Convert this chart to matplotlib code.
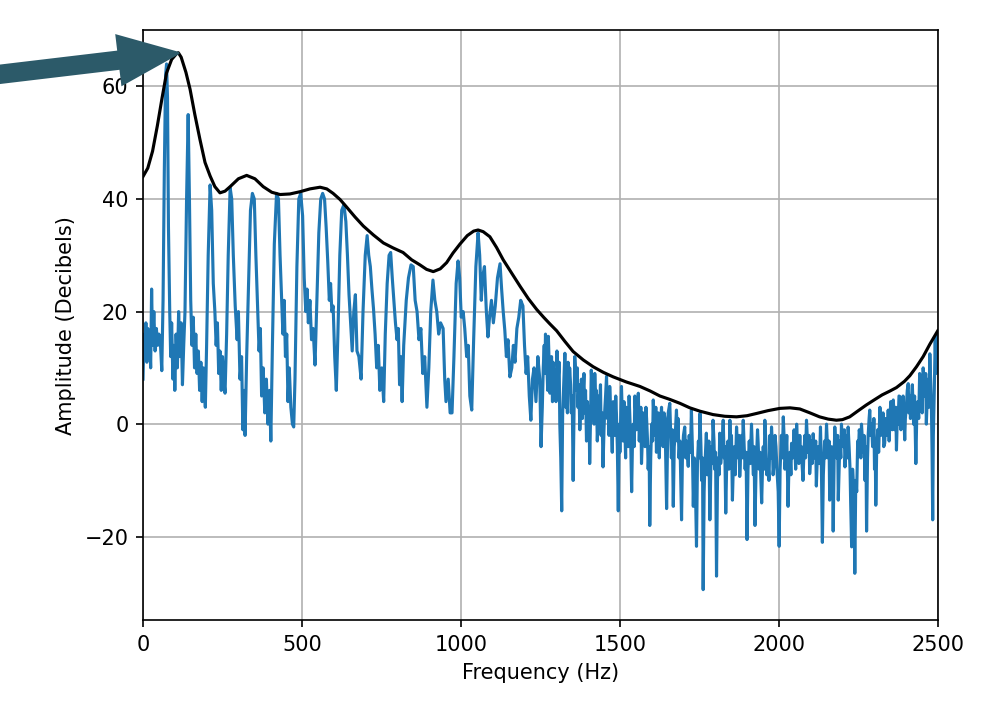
import matplotlib
matplotlib.use("Agg")
import matplotlib.pyplot as plt
from matplotlib.patches import FancyArrow

# ---------------- data ----------------
spec_freq_a = [0,3,6,9,12,15,18,21,24,27,
    30,34,38,42,46,50,55,59,63,67,
    71,74,77,80,84,87,90,94,97,100,
    104,108,112,116,120,124,128,132,137,142,
    146,150,154,158,162,166,170,174,178,182,
    186,190,196,200,205,211,216,221,226,230,
    234,238,242,246,250,254,258,263,268,274,
    279,284,290,296,300,305,310,314,318,321,
    326,332,338,344,350,355,361,365,369,373,
    378,383,388,393,398,402,407,413,420]
spec_db_a = [8,16,13,18,11,17,12,15,10,24,
    14,20,13,17,14,16,14,9.5,22,45,
    62,64,58,35,20,12,18,8,14,6,
    16,10,20,12,18,7,14,20,40,55,
    40,22,14,19,10,16,9,13,6,11,
    4,10,3,14,30,42.5,38,25,20,14,
    18,9,13,6,12,8,5.5,16,30,42,
    40,30,21,15,20,8,12,-1,6,-2,
    12,25,38,41,40,30,20,13,17,5,
    10,2,8,0,6,-3,14,32,41]

spec_freq_b = [426,431,436,440,444,448,452,456,460,465,
    470,474,478,484,490,496,502,507,512,516,
    520,525,530,535,541,547,553,559,565,571,
    576,581,586,590,594,598,603,608,613,619,
    625,632,638,643,648,653,658,663,668,673,
    679,686,692,699,705,710,715,720,725,730,
    735,740,745,751,757,762,768,774,779,784,
    789,794,799,803,807,811,815,820,828,835,
    843,850,856,862,868,874,880,886,893,899,
    905,912,918,924,930,936,944,949,953,960,
    966,972,978,985,991,996]
spec_db_b = [40,30,22,16,22,12,16,4,10,3,
    0,-0.5,8,28,40,41,37,26,20,24,
    18,22,15,17,10.5,22,34,40,41,40,
    35,29,22,25,20,21,12,6,16,30,
    38,39,36,30,23,18,13,20,23,13,
    12,8,20,30,33.5,30,28,24,20.5,16,
    10,14,6,10,4,16,25,30,30.5,26,
    22,18,15,17,7,12,4,14,22,26,
    28.3,28,22,20,15,17,9,12,3,10,
    20,25.6,22,20,16,18,17,8,4,8,
    2,2,12,25,29,26]

spec_freq_c = [1001,1007,1012,1018,1023,1028,1034,1040,1047,1054,
    1059,1064,1068,1074,1080,1085,1090,1096,1102,1108,
    1115,1123,1128,1133,1138,1143,1148,1154,1160,1165,
    1170,1176,1182,1188,1195,1200,1205,1210,1215,1220,
    1225,1230,1236,1242,1248,1252]
spec_db_c = [19,20,17,12,14,5,2.5,15,28,34,
    30,22,26,28,20,15.5,19,22,18,21,
    26,28.5,24,20,16.7,12,15,8.4,10,14,
    11,17,19,22,21,14,9,12,5,0.7,
    8,10,4,12,8,-4]

spec_freq_d = [1256,1259,1262,1264,1266,1268,1270,1273,1275,1278,
    1280,1283,1285,1288,1290,1293,1296,1299,1302,1304,
    1306,1309,1311,1314,1317,1320,1322,1325,1327,1330,
    1332,1335,1337,1340,1342,1345,1347,1350,1353,1356,
    1358,1361,1363,1366,1368,1371,1374,1377,1379,1382,
    1384,1387,1389,1392,1395,1398,1400,1403,1405,1408,
    1410,1413,1416,1419,1421,1424,1426,1429,1431,1434,
    1436,1439,1441,1444,1447,1450,1452,1455,1458,1461,
    1463,1466,1468,1471,1473,1476,1479,1481,1484,1487,
    1489,1492,1495,1498,1500,1503,1505,1508,1510,1513,
    1515,1518,1520,1523,1526,1529,1531,1534,1537,1540,
    1542,1545,1547,1550,1552,1555,1558,1561,1563,1566,
    1568,1571,1573,1576,1579,1582,1584,1587,1589,1592,
    1594,1597,1600,1603,1605,1608,1610,1613,1615,1618,
    1621,1624,1626,1629,1631,1634,1636,1639,1642,1644,
    1647,1650,1652]
spec_db_d = [3,10,14,9,16,12,11,6,15.6,10,
    5.5,9,12,4,11,7,9.6,4,13,10,
    8,11,0,-6,-15.4,2,5,9,12.6,3,
    7,2,11,6,10,7,2,5,-10,4,
    12,9,6,10,3,7,-1,4,8,1,
    5,9,2,6,-3,4,1,3,-7,2,
    9.6,6,4,0,9,3,6,-3,0,5,
    3,7,-2,2,-7.6,-1,2,5,8.5,1,
    3,-2,6.7,2,0,-5,4,1,-2,5,
    2,-4,-15.4,0,-5,2,6.7,1,-3,4,
    1,-6,3,0,-4,5,2,-3,-12,-2,
    0,-4,5,2,-1,3,5.5,-3,0,3,
    -7,-2,2,-1,-4,3,1,-3,-8,-4,
    -18,-6,0,-3,4.3,0,-2,3,-5,-1,
    2,-6,-1,1,3,-2,-4,2,1,-5,
    -15,-3,2]

spec_freq_e = [1657,1660,1662,1665,1668,1671,1674,1678,1681,1683,
    1686,1689,1694,1697,1700,1704,1707,1710,1715,1718,
    1722,1725,1728,1731,1734,1737,1741,1744,1747,1749,
    1752,1755,1757,1760,1762,1765,1767,1770,1772,1775,
    1777,1780,1783,1786,1788,1791,1793,1796,1798,1801,
    1804,1807,1809,1812,1814,1817,1820,1823,1825,1828,
    1830,1833,1836,1840,1843,1846,1849,1851,1854,1857,
    1860,1863,1867,1870,1872,1875,1877,1880,1883,1885,
    1888,1891,1894,1897,1900,1903,1907,1910,1914,1917,
    1920,1922,1925,1928,1930,1933,1935,1938,1941,1943,
    1946,1949,1951,1954,1956,1959,1962,1966,1969,1972,
    1975,1977,1980,1982,1985,1988,1991,1994,1998,2001,
    2004,2008,2011,2014,2017,2019,2022,2025,2029,2032,
    2035,2038,2040,2044,2048,2051,2053,2056,2059,2063,
    2066,2068,2071,2073,2076,2079,2082,2084,2087,2090,
    2092,2095,2097,2100,2102,2105,2108,2110,2113,2116,
    2118,2121,2124,2128,2131,2134,2137,2140,2144,2147,
    2150,2153,2155,2158,2160,2163,2166,2169,2171,2174,
    2176,2179,2182,2185,2187,2190,2192,2195,2197,2200,
    2203,2206,2208,2211,2213,2216,2218,2221,2224,2226,
    2229,2232,2234,2237,2239,2242,2245,2248,2250,2253,
    2255,2258,2260,2263,2266,2268,2271,2274,2276,2279,
    2281,2284,2286,2289,2292,2295,2297,2299,2301,2303,
    2305,2308,2311,2314,2318,2321,2325,2328,2330,2333,
    2336,2338,2341,2344,2347,2350,2352,2355,2357,2360,
    2363,2365,2368,2370,2373,2375,2378,2381,2384,2388,
    2391,2393,2396,2398,2401,2404,2407,2409,2412,2414,
    2417,2420,2424,2427,2431,2434,2437,2440,2443,2446,
    2449,2451,2454,2457,2459,2462,2464,2467,2470,2472,
    2475,2478,2480,2482,2484,2486,2489,2492,2494,2496,
    2498,2500]
spec_db_e = [3.7,-2,-6,-1,-14.6,-4,-2,2.5,-3,1,
    -6,-3,-17,-5,-2,-0.5,-6,-3,-7.5,-2,
    -5,2.5,-4,-14.6,-6,-9,-21.7,-7,-3,-6,
    1.9,-4,-10,-6,-29.4,-12,-8,-4,-1.6,-9,
    -6,-3,-17,-8,-4,-7,0.7,-3,-8,-5,
    -27,-10,-6,-9,-1.6,-7,-5,-2,0.7,-6,
    -4,-15.8,-7,-3,-8,0.7,-5,-2,-13.5,-7,
    -4,-9,-0.5,-4,-6,-2,-9.3,-5,-2,-6,
    0.7,-4,-8,-5,-20.5,-8,-3,-7,0,-5,
    -9,-4,-18,-9,-6,-1,-3.4,-8,-5,-9,
    -14,-7,-4,-8,0.7,-3,-9,-6.4,-10,-2,
    -6,-0.5,-4,-9,-7,-2,-4,-8,-12,-21.7,
    -8,-2,-6,1.3,-3,-8,-6,-2,-14.6,-7,
    -5,-9,-3.4,-6,-1,-5,-8,0,-4,-7,
    -2,-6,-4,-7,-10,-5,-2,-6,0.7,-3,
    -5,-2,-8.8,-6,-3,-7,-1.7,-4,-6,-3,
    -11,-6,-4,-7,-0.5,-8,-21,-9,-3,-6,
    0,-4,-6,-3,-13.5,-8,-4,-8,-19,-6,
    -0.5,-4,-6,-2,-13.5,-7,-3,-6,0,-3,
    -4,-1,-7.6,-4,-2,-6,-0.5,-4,-8,-14,
    -21.8,-8,-10,-16,-26.5,-10,-12,-3,-5.8,-1,
    -2,-6,0,-3,-5,-2,-10,-4,-19,-6,
    -2,1,2.5,-2,0,-4,-2.8,1,-8,-3,
    -14.4,-4,-1,-5,3,-2,-1,2,-4,-3.4,
    1,0,-2,2.5,-3,1,4,3,-1,4.3,
    1,-1,3,-4.6,2,0,5,4.9,-1,1,
    5,2,-2.8,1,3,6,7.2,2,5,1,
    4.3,7,0,5,-7,2,4,1,9,4,
    6,2,10,7,5,9,0,5,8,3,
    12.5,7,3,-5,-17,-2,6,15.5,9,12,
    14,16]

env_freq = [0,15,30,45,60,74,90,105,111,120,135,148,163,179,195,211,226,242,
    258,274,300,326,352,378,405,431,462,494,525,557,578,598,620,640,667,
    693,725,756,787,818,845,871,892,913,935,955,975,997,1020,1040,1054,
    1070,1091,1112,1133,1160,1186,1212,1238,1260,1280,1301,1327,1353,1385,
    1416,1448,1479,1520,1563,1595,1626,1657,1689,1720,1752,1793,1830,1867,
    1900,1930,1966,2003,2035,2066,2098,2128,2155,2181,2200,2223,2250,2275,
    2297,2325,2350,2370,2395,2412,2433,2454,2475,2500]
env_db = [44,45.5,48.5,53,58,62.4,64.8,65.8,66,65.2,62.5,59.5,55,50.6,46.5,44.1,
    42.2,41.1,41.4,42.2,43.6,44.2,43.6,42.2,41.2,40.8,40.9,41.3,41.8,42.1,
    41.8,41,39.9,38.6,36.8,35.2,33.6,32.2,31.3,30.5,29.2,28.3,27.5,27.1,
    27.6,28.7,30.4,32,33.5,34.3,34.5,34.2,33.3,31.4,29.2,26.8,24.5,22.3,
    20.4,19,17.8,16.6,14.7,12.9,11.4,10.2,9.2,8.4,7.5,6.7,5.9,5.0,4.4,3.7,
    2.9,2.3,1.7,1.4,1.3,1.5,1.9,2.4,2.8,2.9,2.7,2.0,1.3,0.9,0.7,0.8,1.3,2.4,
    3.4,4.2,5.2,5.9,6.5,7.6,8.6,10.2,12.0,14.2,16.6]

x_ticks = [0, 500, 1000, 1500, 2000, 2500]
y_ticks = [-20, 0, 20, 40, 60]

spec_freq = spec_freq_a + spec_freq_b + spec_freq_c + spec_freq_d + spec_freq_e
spec_db = spec_db_a + spec_db_b + spec_db_c + spec_db_d + spec_db_e
assert len(spec_freq_d) == len(spec_db_d), (len(spec_freq_d), len(spec_db_d))
assert len(spec_freq_e) == len(spec_db_e), (len(spec_freq_e), len(spec_db_e))
assert len(spec_freq) == len(spec_db)
assert len(env_freq) == len(env_db)

# ---------------- plot ----------------
fig = plt.figure(figsize=(983 / 150, 702 / 150), dpi=150)
ax = fig.add_axes([0.1455, 0.1168, 0.954 - 0.1455, 0.957 - 0.1168])

ax.plot(spec_freq, spec_db, color="#1f77b4", lw=1.5, zorder=2)
ax.plot(env_freq, env_db, color="black", lw=1.5, zorder=3)

ax.set_xlim(0, 2500)
ax.set_ylim(-34.8, 70)
ax.set_xticks(x_ticks)
ax.set_yticks(y_ticks)
ax.grid(True, color="#b0b0b0", lw=0.8)
ax.set_axisbelow(True)
ax.set_xlabel("Frequency (Hz)")
ax.set_ylabel("Amplitude (Decibels)")

# annotation arrow (figure inches)
arrow = FancyArrow(-0.04, (702 - 75) / 150, 1.233, (75 - 53) / 150,
                   width=0.115, head_width=0.33, head_length=0.40,
                   length_includes_head=True, color="#2c5a69",
                   transform=fig.dpi_scale_trans, zorder=10, clip_on=False)
fig.add_artist(arrow)

fig.savefig("out.png", dpi=150)
